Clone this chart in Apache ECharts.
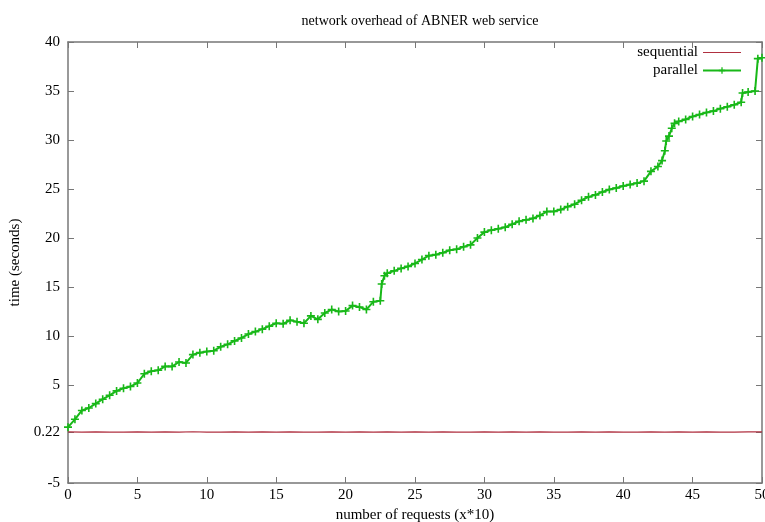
<!DOCTYPE html>
<html>
<head>
    <meta charset="utf-8">
    <title>network overhead of ABNER web service</title>
    <script src="https://cdn.jsdelivr.net/npm/echarts@6/dist/echarts.min.js"></script>
    <style>
        html, body { margin: 0; padding: 0; background: #fff; }
        #chart1 { width: 765px; height: 522px; }
    </style>
</head>
<body>
<div id="chart1"></div>
<script type="text/javascript">
// x positions (requests x10) and measured times for the parallel run
var parallelX = [0, 0.5, 1, 1.5, 2, 2.5, 3, 3.5, 4, 4.5, 5, 5.5, 6, 6.5, 7, 7.5, 8, 8.5, 9, 9.5,
    10, 10.5, 11, 11.5, 12, 12.5, 13, 13.5, 14, 14.5, 15, 15.5, 16, 16.5, 17, 17.5, 18, 18.5, 19, 19.5,
    20, 20.5, 21, 21.5, 22, 22.5, 22.6, 22.8, 23, 23.5, 24, 24.5, 25, 25.5, 26, 26.5, 27, 27.5, 28, 28.5,
    29, 29.5, 30, 30.5, 31, 31.5, 32, 32.5, 33, 33.5, 34, 34.5, 35, 35.5, 36, 36.5, 37, 37.5, 38, 38.5,
    39, 39.5, 40, 40.5, 41, 41.5, 42, 42.5, 42.8, 43, 43.1, 43.3, 43.5, 43.7, 44, 44.5, 45, 45.5, 46, 46.5,
    47, 47.5, 48, 48.5, 48.6, 49, 49.5, 49.7, 50];
var parallelY = [0.7, 1.5, 2.4, 2.65, 3.1, 3.55, 3.95, 4.4, 4.67, 4.85, 5.2, 6.15, 6.4, 6.5, 6.9, 6.9, 7.35, 7.25, 8.1, 8.3,
    8.42, 8.5, 8.9, 9.15, 9.5, 9.8, 10.2, 10.45, 10.7, 11.0, 11.3, 11.25, 11.6, 11.45, 11.3, 12.05, 11.7, 12.35, 12.7, 12.5,
    12.55, 13.1, 12.95, 12.7, 13.5, 13.6, 15.3, 16.15, 16.4, 16.65, 16.9, 17.1, 17.4, 17.8, 18.2, 18.3, 18.5, 18.75, 18.85, 19.1,
    19.3, 20.0, 20.6, 20.8, 20.95, 21.1, 21.4, 21.7, 21.85, 22.0, 22.3, 22.7, 22.7, 22.9, 23.2, 23.45, 23.85, 24.2, 24.4, 24.7,
    24.95, 25.1, 25.3, 25.45, 25.6, 25.8, 26.8, 27.3, 27.9, 28.9, 29.9, 30.4, 31.2, 31.7, 31.9, 32.1, 32.4, 32.6, 32.8, 32.95,
    33.2, 33.4, 33.6, 33.85, 34.8, 34.9, 35.0, 38.3, 38.4];

// sequential run, one reading per x unit
var sequentialX = [0, 1, 2, 3, 4, 5, 6, 7, 8, 9, 10, 11, 12, 13, 14, 15, 16, 17, 18, 19, 20, 21, 22, 23, 24, 25,
    26, 27, 28, 29, 30, 31, 32, 33, 34, 35, 36, 37, 38, 39, 40, 41, 42, 43, 44, 45, 46, 47, 48, 49, 50];
var sequentialY = [0.22, 0.2, 0.21, 0.2, 0.19, 0.22, 0.2, 0.21, 0.2, 0.23, 0.2, 0.19, 0.21, 0.2, 0.22, 0.2, 0.21, 0.2, 0.19, 0.22,
    0.2, 0.21, 0.2, 0.22, 0.19, 0.21, 0.2, 0.22, 0.2, 0.19, 0.21, 0.2, 0.22, 0.2, 0.21, 0.19, 0.2, 0.22, 0.2, 0.21,
    0.2, 0.19, 0.21, 0.2, 0.22, 0.2, 0.21, 0.19, 0.2, 0.21, 0.22];

var yTicks = [-5, 0.22, 5, 10, 15, 20, 25, 30, 35, 40];

var font = 'Liberation Serif';
var axisColor = '#777';

function pairs(xs, ys) {
    var out = [];
    for (var i = 0; i < xs.length; i++) out.push([xs[i], ys[i]]);
    return out;
}

var myChart1 = echarts.init(document.getElementById('chart1'));

myChart1.setOption({
    animation: false,
    backgroundColor: '#fff',
    title: {
        text: 'network overhead of ABNER web service',
        left: 415,
        top: 9,
        textAlign: 'center',
        textStyle: { fontFamily: font, fontSize: 14, fontWeight: 'normal', color: '#000' }
    },
    legend: {
        orient: 'vertical',
        right: 18,
        top: 40,
        align: 'right',
        itemWidth: 38,
        itemHeight: 8,
        itemGap: 3,
        textStyle: { fontFamily: font, fontSize: 15, color: '#000' },
        data: [
            { name: 'sequential', icon: 'path://M0,4H38V5H0Z' },
            { name: 'parallel' }
        ]
    },
    grid: { left: 68, right: 3, top: 42, bottom: 39, outerBoundsMode: 'none', containLabel: false },
    xAxis: [{
        type: 'value',
        position: 'bottom',
        min: 0, max: 50, interval: 5,
        name: 'number of requests (x*10)',
        nameLocation: 'middle',
        nameGap: 24,
        nameTextStyle: { fontFamily: font, fontSize: 15, color: '#000' },
        axisLine: { onZero: false, lineStyle: { color: axisColor, width: 1.5 } },
        axisTick: { inside: true, length: 6, lineStyle: { color: axisColor } },
        axisLabel: { fontFamily: font, fontSize: 15, color: '#000', margin: 5 },
        splitLine: { show: false }
    }, {
        type: 'value',
        position: 'top',
        min: 0, max: 50, interval: 5,
        axisLine: { onZero: false, lineStyle: { color: axisColor, width: 1.5 } },
        axisTick: { inside: true, length: 6, lineStyle: { color: axisColor } },
        axisLabel: { show: false },
        splitLine: { show: false }
    }],
    yAxis: [{
        type: 'value',
        position: 'left',
        min: -5, max: 40, interval: 5,
        name: 'time (seconds)',
        nameLocation: 'middle',
        nameGap: 44,
        nameTextStyle: { fontFamily: font, fontSize: 15, color: '#000' },
        axisLine: { show: true, onZero: false, lineStyle: { color: axisColor, width: 1.5 } },
        axisTick: { inside: true, length: 6, lineStyle: { color: axisColor }, customValues: yTicks },
        axisLabel: { fontFamily: font, fontSize: 15, color: '#000', margin: 8, customValues: yTicks },
        splitLine: { show: false }
    }, {
        type: 'value',
        position: 'right',
        min: -5, max: 40, interval: 5,
        axisLine: { show: true, onZero: false, lineStyle: { color: axisColor, width: 1.5 } },
        axisTick: { show: true, inside: true, length: 6, lineStyle: { color: axisColor }, customValues: yTicks },
        axisLabel: { show: false },
        splitLine: { show: false }
    }],
    series: [{
        name: 'sequential',
        type: 'line',
        data: pairs(sequentialX, sequentialY),
        showSymbol: false,
        symbol: 'none',
        lineStyle: { color: '#b03040', width: 1.2 },
        itemStyle: { color: '#b03040' }
    }, {
        name: 'parallel',
        type: 'line',
        data: pairs(parallelX, parallelY),
        symbol: 'path://M4,0H6V4H10V6H6V10H4V6H0V4H4Z',
        symbolSize: 8,
        showAllSymbol: true,
        lineStyle: { color: '#18b818', width: 2 },
        itemStyle: { color: '#18b818' }
    }]
});
</script>
</body>
</html>
